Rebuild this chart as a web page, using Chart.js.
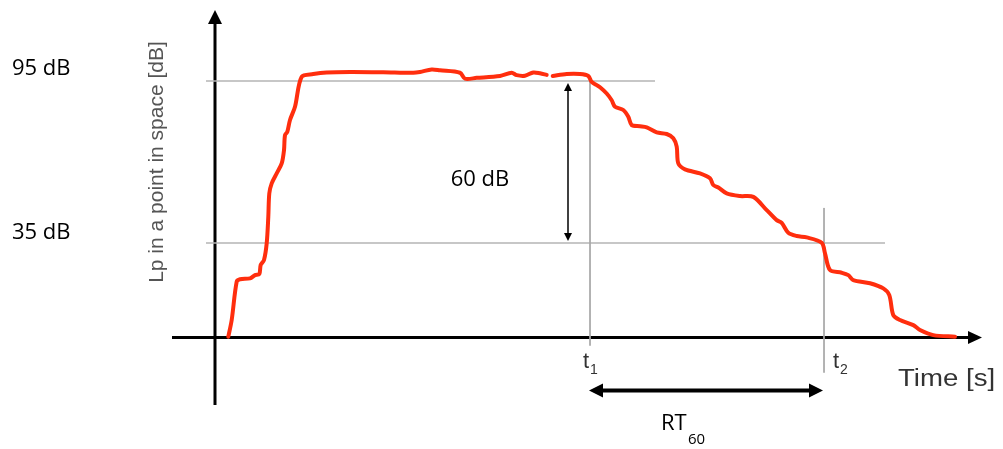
<!DOCTYPE html>
<html>
<head>
<meta charset="utf-8">
<script src="https://cdn.jsdelivr.net/npm/chart.js@4.4.1/dist/chart.umd.min.js"></script>
<style>
  html, body { margin: 0; padding: 0; background: #fff; }
  #wrap { width: 1003px; height: 449px; }
</style>
</head>
<body>
<div id="wrap"><canvas id="rt60Chart" width="1003" height="449"></canvas></div>
<script>
    // ===================================
    // DATA (time in s, level in dB)
    // ===================================
    const TIME = [
        0.133, 0.167, 0.217, 0.25, 0.35, 0.40, 0.443, 0.457, 0.49, 0.517,
        0.533, 0.543, 0.567, 0.617, 0.667, 0.69, 0.70, 0.723, 0.75, 0.80,
        0.867, 0.983, 1.117, 1.35, 1.683, 1.983, 2.05, 2.167, 2.25, 2.45,
        2.50, 2.617, 2.85, 2.967, 3.017, 3.10, 3.183, 3.25, 3.317, 3.35,
        3.377, 3.517, 3.65, 3.733, 3.767, 3.817, 3.85, 3.917, 3.967, 4.00,
        4.083, 4.133, 4.167, 4.25, 4.317, 4.417, 4.517, 4.583, 4.617, 4.633,
        4.70, 4.85, 4.95, 4.983, 5.033, 5.117, 5.25, 5.383, 5.517, 5.617,
        5.667, 5.733, 5.817, 5.917, 6.067, 6.10, 6.15, 6.267, 6.333, 6.383,
        6.55, 6.683, 6.743, 6.783, 6.85, 6.983, 7.05, 7.183, 7.40
    ];
    const LEVEL = [
        0.3, 6.5, 20.7, 21.6, 21.9, 23.1, 23.5, 26.9, 28.7, 34.9,
        44.7, 53.4, 57.1, 60.8, 64.5, 69.4, 75.0, 76.2, 80.6, 85.5,
        96.6, 97.6, 98.2, 98.4, 98.3, 98.1, 98.4, 99.3, 99.0, 98.1,
        95.9, 96.2, 96.9, 98.1, 97.2, 97.0, 98.2, 97.9, 97.3, null,
        96.9, 97.6, 97.6, 96.9, 94.7, 93.5, 92.7, 90.4, 87.9, 85.5,
        84.3, 81.8, 78.7, 78.3, 77.9, 76.0, 75.4, 73.8, 70.7, 64.5,
        62.3, 60.8, 59.0, 56.5, 55.6, 53.4, 52.4, 52.1, 47.2, 43.5,
        42.5, 38.8, 37.6, 37.1, 35.1, 31.2, 25.0, 24.0, 23.1, 21.3,
        20.1, 18.2, 15.7, 8.3, 6.5, 4.6, 2.8, 0.9, 0.3
    ];

    // reference levels and times
    const LEVELS = [95, 35];
    const LEVEL_LABELS = ['95 dB', '35 dB'];
    const LEVEL_LINE_END = [4.40, 6.70];
    const T_MARKS = [3.75, 6.09];
    const T_MARK_TOP = [95, 48];
    const T_MARK_BOTTOM = [-3, -13];
    const T_LABELS = ['1', '2'];
    const DROP_LABEL = '60 dB';
    const DROP_AT = 3.53;
    const Y_TITLE = 'Lp in a point in space [dB]';
    const X_TITLE = 'Time [s]';

    const curveData = TIME.map((t, i) => ({ x: t, y: LEVEL[i] }));

    const refSets = LEVELS.map((lv, i) => ({
        data: [{ x: -0.09, y: lv }, { x: LEVEL_LINE_END[i], y: lv }],
        borderColor: '#b4b4b4', borderWidth: 1.5, pointRadius: 0
    }));
    const markSets = T_MARKS.map((t, i) => ({
        data: [{ x: t, y: T_MARK_TOP[i] }, { x: t, y: T_MARK_BOTTOM[i] }],
        borderColor: '#a8a8a8', borderWidth: 1, pointRadius: 0
    }));

    // ===================================
    // DRAWING HELPERS
    // ===================================
    function head(ctx, x, y, dir, len, half) {
        ctx.beginPath();
        ctx.moveTo(x, y);
        if (dir === 'up') { ctx.lineTo(x - half, y + len); ctx.lineTo(x + half, y + len); }
        if (dir === 'down') { ctx.lineTo(x - half, y - len); ctx.lineTo(x + half, y - len); }
        if (dir === 'right') { ctx.lineTo(x - len, y - half); ctx.lineTo(x - len, y + half); }
        if (dir === 'left') { ctx.lineTo(x + len, y - half); ctx.lineTo(x + len, y + half); }
        ctx.closePath();
        ctx.fill();
    }

    const axesPlugin = {
        id: 'axesArrows',
        beforeDatasetsDraw(chart) {
            const { ctx, chartArea, scales } = chart;
            const x0 = scales.x.getPixelForValue(0);
            const y0 = scales.y.getPixelForValue(0);
            ctx.save();
            ctx.strokeStyle = '#000';
            ctx.fillStyle = '#000';
            ctx.lineWidth = 3;
            ctx.beginPath();
            ctx.moveTo(x0, chartArea.bottom);
            ctx.lineTo(x0, chartArea.top + 10);
            ctx.moveTo(chartArea.left, y0);
            ctx.lineTo(chartArea.right - 10, y0);
            ctx.stroke();
            head(ctx, x0, chartArea.top - 2, 'up', 14, 7);
            head(ctx, chartArea.right - 3, y0, 'right', 14, 6.5);
            ctx.restore();
        },
        afterDraw(chart) {
            const { ctx, scales } = chart;
            const xs = scales.x, ys = scales.y;
            ctx.save();
            ctx.fillStyle = '#000';
            ctx.strokeStyle = '#000';

            // 60 dB drop arrow
            const ax = xs.getPixelForValue(DROP_AT);
            const aTop = ys.getPixelForValue(LEVELS[0]) + 2;
            const aBot = ys.getPixelForValue(LEVELS[1]) - 2;
            ctx.lineWidth = 1.5;
            ctx.beginPath();
            ctx.moveTo(ax, aTop + 6);
            ctx.lineTo(ax, aBot - 6);
            ctx.stroke();
            head(ctx, ax, aTop, 'up', 8, 4);
            head(ctx, ax, aBot, 'down', 8, 4);

            // RT60 arrow
            const ry = ys.getPixelForValue(0) + 53;
            const r1 = xs.getPixelForValue(T_MARKS[0]) - 1;
            const r2 = xs.getPixelForValue(T_MARKS[1]) - 1;
            ctx.lineWidth = 4;
            ctx.beginPath();
            ctx.moveTo(r1 + 10, ry);
            ctx.lineTo(r2 - 10, ry);
            ctx.stroke();
            head(ctx, r1, ry, 'left', 14, 7);
            head(ctx, r2, ry, 'right', 14, 7);

            // Calibri-like labels
            ctx.font = '22px "Open Sans"';
            ctx.textBaseline = 'middle';
            ctx.textAlign = 'left';
            LEVELS.forEach((lv, i) => {
                ctx.fillText(LEVEL_LABELS[i], 12, ys.getPixelForValue(lv) - (i === 0 ? 12 : 10));
            });
            ctx.textAlign = 'center';
            ctx.fillText(DROP_LABEL, ax - 88, ys.getPixelForValue(65) + 18);

            ctx.textAlign = 'left';
            ctx.fillText('RT', 661, 424);
            ctx.font = '15px "Open Sans"';
            ctx.fillText('60', 688, 440);

            // t1, t2
            ctx.fillStyle = '#333';
            ctx.textBaseline = 'alphabetic';
            T_MARKS.forEach((t, i) => {
                const px = xs.getPixelForValue(t);
                const off = i === 0 ? -7 : 9;
                ctx.font = '22px "Liberation Sans"';
                ctx.fillText('t', px + off, 368);
                ctx.font = '14px "Liberation Sans"';
                ctx.fillText(T_LABELS[i], px + off + 7, 374);
            });

            // x title
            ctx.save();
            ctx.translate(898, 386);
            ctx.scale(1.2, 1);
            ctx.font = '23px "Liberation Sans"';
            ctx.fillText(X_TITLE, 0, 0);
            ctx.restore();

            // y title
            ctx.save();
            ctx.translate(157, 162);
            ctx.rotate(-Math.PI / 2);
            ctx.fillStyle = '#555';
            ctx.textAlign = 'center';
            ctx.textBaseline = 'middle';
            ctx.font = '21px "Liberation Sans"';
            ctx.fillText(Y_TITLE, 0, 0);
            ctx.restore();

            ctx.restore();
        }
    };

    // ===================================
    // CHART CONFIG
    // ===================================
    const rt60Config = {
        type: 'scatter',
        data: {
            datasets: [
                {
                    data: curveData,
                    showLine: true,
                    borderColor: '#ff2e0e',
                    borderWidth: 4,
                    pointRadius: 0,
                    tension: 0.3,
                    spanGaps: false,
                    borderCapStyle: 'round',
                    borderJoinStyle: 'round'
                },
                ...markSets.map(d => ({ ...d, showLine: true })),
                ...refSets.map(d => ({ ...d, showLine: true }))
            ]
        },
        options: {
            responsive: false,
            animation: false,
            events: [],
            layout: { padding: { left: 172, right: 18, top: 12, bottom: 44 } },
            plugins: { legend: { display: false }, tooltip: { enabled: false } },
            scales: {
                x: { type: 'linear', display: false, min: -0.43, max: 7.70 },
                y: { type: 'linear', display: false, min: -25, max: 120.6 }
            },
            clip: false
        },
        plugins: [axesPlugin]
    };

    const ctxRt = document.getElementById('rt60Chart').getContext('2d');
    new Chart(ctxRt, rt60Config);
</script>
</body>
</html>
